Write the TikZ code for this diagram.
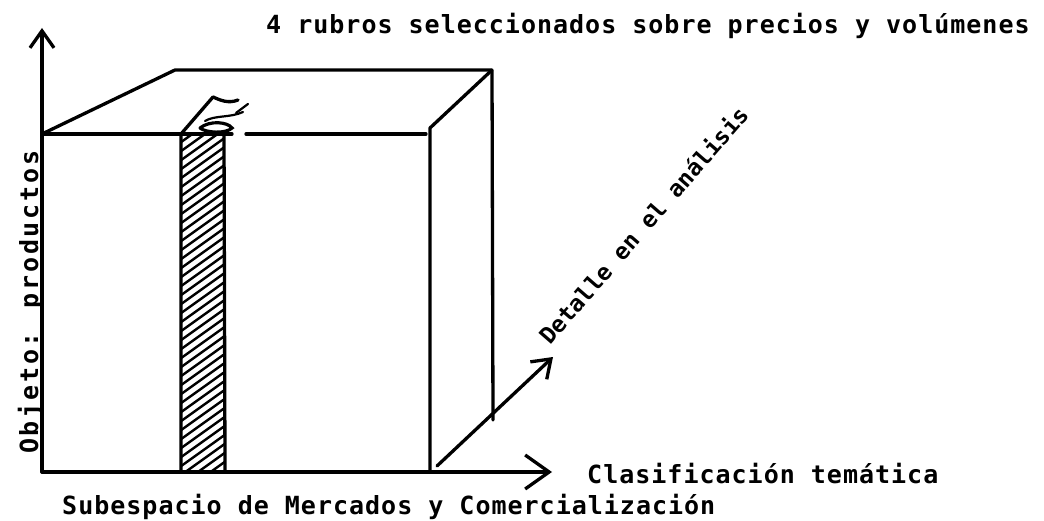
\documentclass[tikz,border=0pt]{standalone}
\usepackage{fontspec}
\usetikzlibrary{arrows.meta}
\newfontfamily\tw{DejaVu Sans Mono}[LetterSpace=4]
\newfontfamily\twy{DejaVu Sans Mono}[LetterSpace=11]
\newfontfamily\twn{DejaVu Sans Mono}
\tikzset{
  ln/.style={line width=3.3pt, line cap=round, line join=round},
  ax/.style={ln, -{Straight Barb[length=17pt,width=24pt,line width=3.3pt]}},
  axbig/.style={ln, -{Straight Barb[length=24pt,width=34pt,line width=3.3pt]}},
  lab/.style={font=\tw\bfseries\fontsize{25}{28}\selectfont, inner sep=0pt},
  labv/.style={font=\twy\bfseries\fontsize{25}{28}\selectfont, inner sep=0pt},
  labd/.style={font=\twn\bfseries\fontsize{23}{26}\selectfont, inner sep=0pt},
  hatch/.style={line width=2.4pt, line cap=round}
}
\begin{document}
\begin{tikzpicture}[x=1pt,y=-1pt]
\useasboundingbox (0,0) rectangle (1044,521);
% key points
\coordinate (O) at (42,472);
\coordinate (Ytip) at (42,28);
\coordinate (Xtip) at (552,472);
\coordinate (FTL) at (42,134);
\coordinate (FTR) at (426,134);
\coordinate (BTL) at (175,70);
\coordinate (BTR) at (492,70);
\coordinate (BBR) at (493,420);
\coordinate (RTF) at (430,128);
\coordinate (RBF) at (430,472);
\coordinate (Dstart) at (437,466);
\coordinate (Dtip) at (553,357);
\coordinate (SBL) at (181,472);
\coordinate (STL) at (181,134);
\coordinate (STR) at (224,134);
\coordinate (SBR) at (225,472);
\coordinate (STop) at (213,97);
% hatching of strip
\begin{scope}
  \clip (SBL) -- (STL) -- (STR) -- (SBR) -- cycle;
  \foreach \k in {0,...,45} {
    \draw[hatch] (170,150+\k*9) -- (240,100+\k*9);
  }
\end{scope}
% axes
\draw[ax] (O) -- (Ytip);
\draw[axbig] (O) -- (Xtip);
% box
\draw[ln] (FTL) -- (BTL) -- (BTR) -- (BBR);
\draw[ln] (BTR) -- (RTF) -- (RBF);
\draw[ln] (FTL) -- (232,134);
\draw[ln] (246,134) -- (FTR);
% strip
\draw[ln] (SBL) -- (STL) -- (STop);
\draw[ln] (STR) -- (SBR);
\draw[ln] (STop) .. controls (220,100) and (228,104) .. (238,100);
\draw[line width=3.2pt, line cap=round] (200,128) .. controls (210,120) and (228,122) .. (232,128) .. controls (226,134) and (206,133) .. (200,128);
\draw[line width=2.2pt, line cap=round] (205,121) .. controls (215,115) and (230,118) .. (243,112);
\draw[line width=2.2pt, line cap=round] (236,113) -- (248,104);
% depth arrow
\draw[ax] (Dstart) -- (Dtip);
% labels
\node[lab, anchor=base west] (t1) at (266,34) {4 rubros seleccionados sobre precios y volúmenes};
\node[lab, anchor=base west] (t2) at (587,483) {Clasificación temática};
\node[lab, anchor=base west] (t3) at (62,514) {Subespacio de Mercados y Comercialización};
\node[labv, anchor=base west, rotate=90] (t4) at (38,454) {Objeto:  productos};
\node[labd, anchor=base west, rotate=49] (t5) at (550,346) {Detalle en el análisis};
\end{tikzpicture}
\end{document}
